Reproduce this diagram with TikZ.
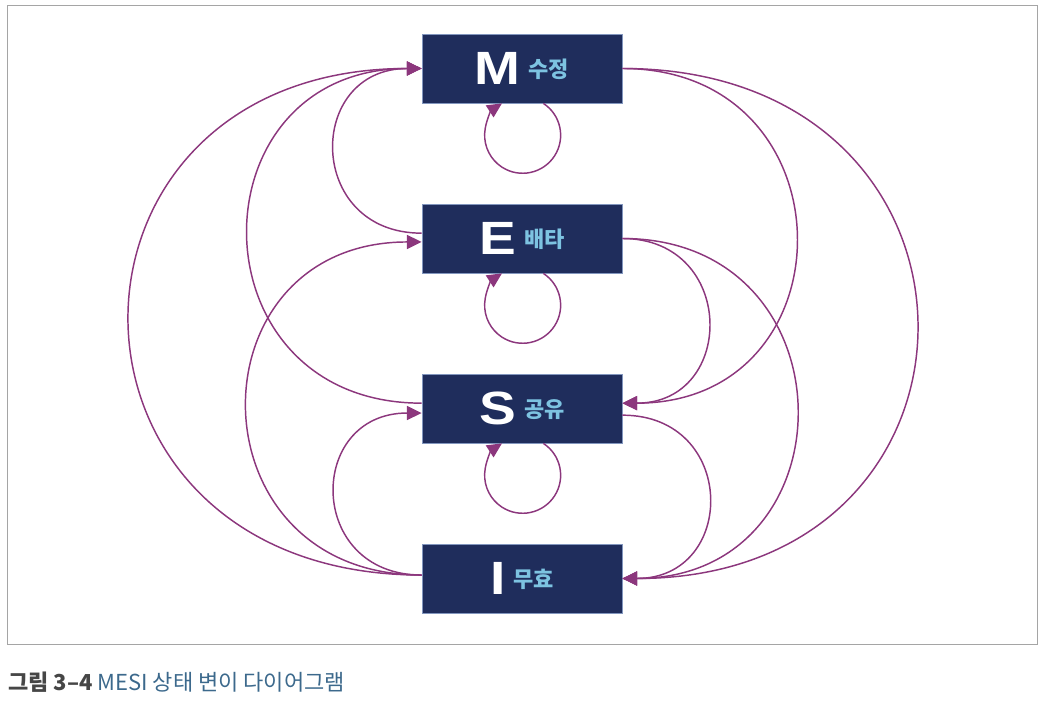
\documentclass[tikz,border=0pt]{standalone}
\usepackage{fontspec}
\setmainfont{Liberation Sans}
\newfontfamily\kor{Noto Sans CJK KR}
\newfontfamily\bigletter[FakeStretch=1.18]{Liberation Sans}
\usetikzlibrary{arrows.meta}
\definecolor{navy}{RGB}{31,45,92}
\definecolor{boxedge}{RGB}{130,150,190}
\definecolor{plum}{RGB}{140,55,125}
\definecolor{skyblue}{RGB}{125,195,225}
\definecolor{framegray}{RGB}{165,165,165}
\definecolor{captionblue}{RGB}{60,105,140}
\definecolor{captiongray}{RGB}{70,70,70}
\tikzset{
	statebox/.style={draw=boxedge, line width=0.6pt, fill=navy, minimum width=150pt, minimum height=51.75pt, inner sep=0pt},
	trans/.style={plum, line width=1.1pt, -{Triangle[length=11pt,width=10.5pt]}},
}
\newcommand{\statelabel}[2]{{\bigletter\bfseries\fontsize{35}{35}\selectfont\color{white}#1}\hspace{6pt}\raisebox{5.5pt}{\kor\bfseries\fontsize{16.5}{16.5}\selectfont\color{skyblue}#2}}
\newcommand{\selfloop}[1]{\draw[trans] ([xshift=16pt]#1.south) arc (57:-237:28.5pt);}

\begin{document}
\begin{tikzpicture}[x=0.75pt, y=0.75pt]
		%%%%% START %%%%%
		\useasboundingbox (0,0) rectangle (1046,700);
		
		\draw[framegray, line width=0.75pt] (7,56) rectangle (1037,694);
		
		\node[statebox] (M) at (522,631.5) {\statelabel{M}{수정}};
		\node[statebox] (E) at (522,461.5) {\statelabel{E}{배타}};
		\node[statebox] (S) at (522,291.5) {\statelabel{S}{공유}};
		\node[statebox] (I) at (522,121.5) {\statelabel{I}{무효}};
		
		\selfloop{M}
		\selfloop{E}
		\selfloop{S}
		
		% left side
		\draw[trans] ([yshift=4pt]E.west) to[out=180, in=180, looseness=1.81] (M.west);
		\draw[trans] ([yshift=4pt]S.west) to[out=180, in=180, looseness=1.77] (M.west);
		\draw[trans] ([yshift=2.6pt]I.west) to[out=180, in=180, looseness=1.97] (M.west);
		\draw[trans] ([yshift=2.6pt]I.west) to[out=180, in=180, looseness=1.79] ([yshift=-2.6pt]E.west);
		\draw[trans] ([yshift=2.6pt]I.west) to[out=180, in=180, looseness=1.83] ([yshift=-3.4pt]S.west);
		
		% right side
		\draw[trans] (M.east) to[out=0, in=0, looseness=1.77] ([yshift=4pt]S.east);
		\draw[trans] (M.east) to[out=0, in=0, looseness=1.97] (I.east);
		\draw[trans] (E.east) to[out=0, in=0, looseness=1.78] ([yshift=4pt]S.east);
		\draw[trans] (E.east) to[out=0, in=0, looseness=1.75] (I.east);
		\draw[trans] ([yshift=-5pt]S.east) to[out=0, in=0, looseness=1.81] (I.east);
		
		\node[anchor=base west, inner sep=0pt] (caption) at (8,10) {\kor\fontsize{16.5}{16.5}\selectfont{\bfseries\color{captiongray}그림 3–4} \color{captionblue}MESI 상태 변이 다이어그램};
		%%%%% END %%%%%
\end{tikzpicture}
\end{document}
